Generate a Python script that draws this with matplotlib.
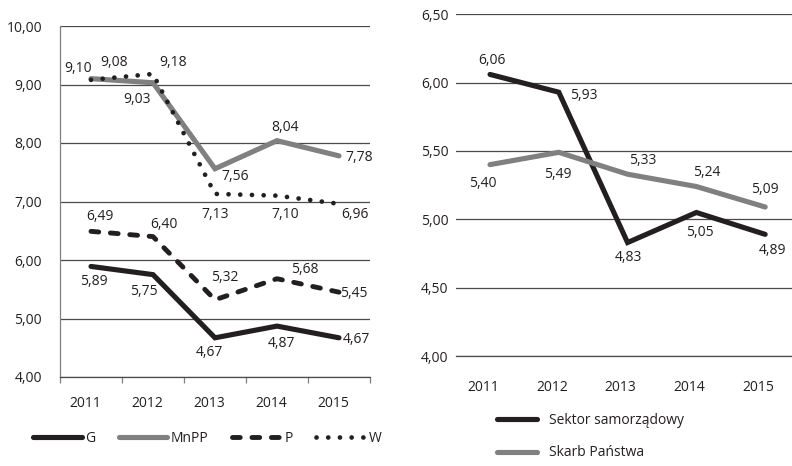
import matplotlib
matplotlib.use("Agg")
import matplotlib.pyplot as plt
import matplotlib.transforms as mtransforms
from matplotlib.lines import Line2D

plt.rcParams['font.family'] = ['Open Sans', 'DejaVu Sans']
plt.rcParams['font.size'] = 10

BLACK = '#231f20'
GRAY = '#808080'
GRID = '#4a4a4a'

years = ['2011', '2012', '2013', '2014', '2015']

# Left chart
G = [5.89, 5.75, 4.67, 4.87, 4.67]
MnPP = [9.10, 9.03, 7.56, 8.04, 7.78]
P = [6.49, 6.40, 5.32, 5.68, 5.45]
W = [9.08, 9.18, 7.13, 7.10, 6.96]
left_yticks = [4, 5, 6, 7, 8, 9, 10]

# Right chart
sektor = [6.06, 5.93, 4.83, 5.05, 4.89]
skarb = [5.40, 5.49, 5.33, 5.24, 5.09]
right_yticks = [4.0, 4.5, 5.0, 5.5, 6.0, 6.5]

W_px, H_px = 792, 466
fig = plt.figure(figsize=(W_px / 100, H_px / 100), dpi=100)


def fmt(v):
    return f"{v:.2f}".replace('.', ',')


def ax_rect(x0, x1, ytop, ybot):
    return [x0 / W_px, 1 - ybot / H_px, (x1 - x0) / W_px, (ybot - ytop) / H_px]


x = list(range(len(years)))

# ---------------- Left panel ----------------
axL = fig.add_axes(ax_rect(60, 370, 26, 377))
axL.set_xlim(-0.5, 4.5)
axL.set_ylim(4, 10)

styles = {
    'G': dict(color=BLACK, lw=3.7, solid_capstyle='round', solid_joinstyle='miter'),
    'MnPP': dict(color=GRAY, lw=3.7, solid_capstyle='round', solid_joinstyle='miter'),
    'P': dict(color=BLACK, lw=3.5, linestyle=(0, (1.6, 2.4)), dash_capstyle='round'),
    'W': dict(color=BLACK, lw=3.4, linestyle=(0, (0.01, 2.47)), dash_capstyle='round'),
}
series_left = [('G', G), ('MnPP', MnPP), ('P', P), ('W', W)]
for name, vals in series_left:
    axL.plot(x, vals, label=name, zorder=3, **styles[name])

offsets_left = {
    'G': [(3, -15), (-9, -17), (-6, -15), (5, -17), (17, -2)],
    'MnPP': [(-13, 10), (-16, -17), (20, -8), (8, 13), (20, -2)],
    'P': [(9, 15), (11, 12), (10, 22), (28, 9), (15, -1)],
    'W': [(23, 17), (20, 11), (0, -21), (8, -19), (16, -11)],
}
for name, vals in series_left:
    for i, v in enumerate(vals):
        dx, dy = offsets_left[name][i]
        axL.annotate(fmt(v), xy=(i, v), xytext=(dx, dy), textcoords='offset pixels',
                     ha='center', va='center', color=BLACK, fontsize=10, zorder=5)

axL.set_yticks(left_yticks)
axL.set_yticklabels([fmt(v) for v in left_yticks])
axL.yaxis.grid(True, color=GRID, lw=0.9)
axL.set_axisbelow(True)
axL.tick_params(axis='y', length=0, pad=13, colors=BLACK)
axL.set_xticks([-0.5, 0.5, 1.5, 2.5, 3.5, 4.5])
axL.set_xticklabels([])
axL.tick_params(axis='x', which='major', length=4, width=0.9, color=GRAY, direction='out')
axL.set_xticks(x, minor=True)
axL.set_xticklabels(years, minor=True)
axL.tick_params(axis='x', which='minor', length=0, pad=14, colors=BLACK)
shiftL = mtransforms.ScaledTranslation(-6 / 100, 0, fig.dpi_scale_trans)
for lab in axL.xaxis.get_minorticklabels():
    lab.set_transform(lab.get_transform() + shiftL)
for s in ['top', 'right']:
    axL.spines[s].set_visible(False)
axL.spines['left'].set_color(GRAY)
axL.spines['left'].set_linewidth(0.9)
axL.spines['bottom'].set_color(GRID)
axL.spines['bottom'].set_linewidth(0.9)

handles_left = [Line2D([], [], **styles[n]) for n, _ in series_left]
fig.legend(handles_left, [n for n, _ in series_left], loc='center left',
           bbox_to_anchor=(33 / W_px, 1 - 438 / H_px), ncol=4, frameon=False,
           handlelength=3.5, handletextpad=0.25, columnspacing=1.7,
           borderaxespad=0, borderpad=0, fontsize=10, labelcolor=BLACK)

# ---------------- Right panel ----------------
axR = fig.add_axes(ax_rect(455.6, 792, 14.3, 356))
axR.set_xlim(-0.5, 4.39)
axR.set_ylim(4.0, 6.5)

sty_sek = dict(color=BLACK, lw=3.7, solid_capstyle='round', solid_joinstyle='miter')
sty_sk = dict(color=GRAY, lw=3.7, solid_capstyle='round', solid_joinstyle='miter')
axR.plot(x, sektor, zorder=3, **sty_sek)
axR.plot(x, skarb, zorder=3, **sty_sk)

off_sek = [(2, 14), (25, -3), (1, -15), (3, -20), (7, -16)]
off_sk = [(-7, -19), (-1, -22), (15, 14), (10, 14), (0, 18)]
for vals, offs in [(sektor, off_sek), (skarb, off_sk)]:
    for i, v in enumerate(vals):
        axR.annotate(fmt(v), xy=(i, v), xytext=offs[i], textcoords='offset pixels',
                     ha='center', va='center', color=BLACK, fontsize=10, zorder=5)

axR.set_yticks(right_yticks)
axR.set_yticklabels([fmt(v) for v in right_yticks])
axR.yaxis.grid(True, color=GRID, lw=0.9)
axR.set_axisbelow(True)
axR.tick_params(axis='y', length=0, pad=5, colors=BLACK)
axR.set_xticks(x)
axR.set_xticklabels(years)
axR.tick_params(axis='x', length=0, pad=17, colors=BLACK)
shiftR = mtransforms.ScaledTranslation(-7 / 100, 0, fig.dpi_scale_trans)
for lab in axR.xaxis.get_majorticklabels():
    lab.set_transform(lab.get_transform() + shiftR)
for s in ['top', 'right', 'left']:
    axR.spines[s].set_visible(False)
axR.spines['bottom'].set_color(GRID)
axR.spines['bottom'].set_linewidth(0.9)

handles_right = [Line2D([], [], **sty_sek), Line2D([], [], **sty_sk)]
fig.legend(handles_right, ['Sektor samorządowy', 'Skarb Państwa'], loc='upper left',
           bbox_to_anchor=(497 / W_px, 1 - 413 / H_px), ncol=1, frameon=False,
           handlelength=2.9, handletextpad=0.85, labelspacing=1.25,
           borderaxespad=0, borderpad=0, fontsize=10, labelcolor=BLACK)

fig.savefig('out.png', dpi=100)
